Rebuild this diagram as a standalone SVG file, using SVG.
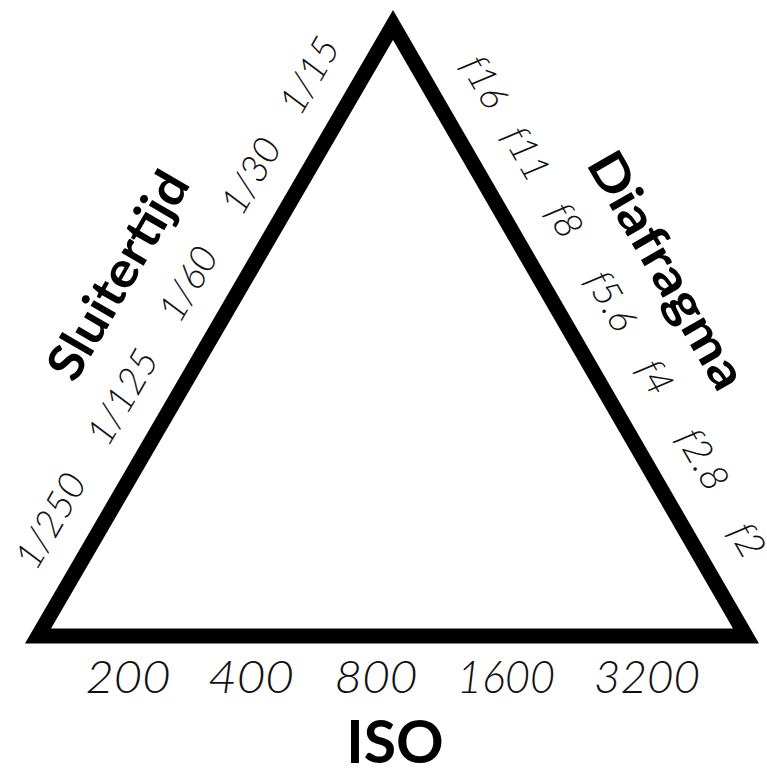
<svg xmlns="http://www.w3.org/2000/svg" width="767" height="769" viewBox="0 0 767 769">
<style>
.num{font-family:Lato,"Liberation Sans",sans-serif;font-weight:300;font-style:italic;fill:#111;text-anchor:middle}
.side{font-size:38px}
.iso{font-size:46px}
.title{font-family:Lato,"Liberation Sans",sans-serif;font-weight:700;fill:#000;text-anchor:middle}
</style>
<rect width="767" height="769" fill="#fff"/>
<g id="connectors">
<polygon id="triangle" points="38,636 393,25 746,636" fill="#fff" stroke="#000" stroke-width="15" stroke-linejoin="miter" stroke-miterlimit="10"/>
</g>
<g id="sluitertijd">
<text class="title" font-size="50" transform="translate(133,284) rotate(-59.84)" textLength="232" lengthAdjust="spacingAndGlyphs">Sluitertijd</text>
<text class="num side" transform="translate(61.9,527.3) rotate(-59.84)">1/250</text>
<text class="num side" transform="translate(133.7,403.6) rotate(-59.84)">1/125</text>
<text class="num side" transform="translate(199.5,290.3) rotate(-59.84)">1/60</text>
<text class="num side" transform="translate(262.3,182.3) rotate(-59.84)">1/30</text>
<text class="num side" transform="translate(320.6,82) rotate(-59.84)">1/15</text>
</g>
<g id="diafragma">
<text class="title" font-size="50" transform="translate(652,279) rotate(59.98)" textLength="266" lengthAdjust="spacingAndGlyphs">Diafragma</text>
<text class="num side" transform="translate(473.4,88.3) rotate(59.98)">f16</text>
<text class="num side" transform="translate(515,160.1) rotate(59.98)">f11</text>
<text class="num side" transform="translate(553.5,226.8) rotate(59.98)">f8</text>
<text class="num side" transform="translate(600,307.3) rotate(59.98)">f5.6</text>
<text class="num side" transform="translate(644,383.5) rotate(59.98)">f4</text>
<text class="num side" transform="translate(691.6,465.8) rotate(59.98)">f2.8</text>
<text class="num side" transform="translate(736,546.5) rotate(59.98)">f2</text>
</g>
<g id="iso">
<text class="num iso" x="128" y="693" textLength="85" lengthAdjust="spacingAndGlyphs">200</text>
<text class="num iso" x="251" y="693" textLength="86" lengthAdjust="spacingAndGlyphs">400</text>
<text class="num iso" x="376" y="693" textLength="83" lengthAdjust="spacingAndGlyphs">800</text>
<text class="num iso" x="506" y="693" textLength="98" lengthAdjust="spacingAndGlyphs">1600</text>
<text class="num iso" x="647" y="693" textLength="106" lengthAdjust="spacingAndGlyphs">3200</text>
<text class="title" font-size="59" x="395" y="763">ISO</text>
</g>
</svg>
